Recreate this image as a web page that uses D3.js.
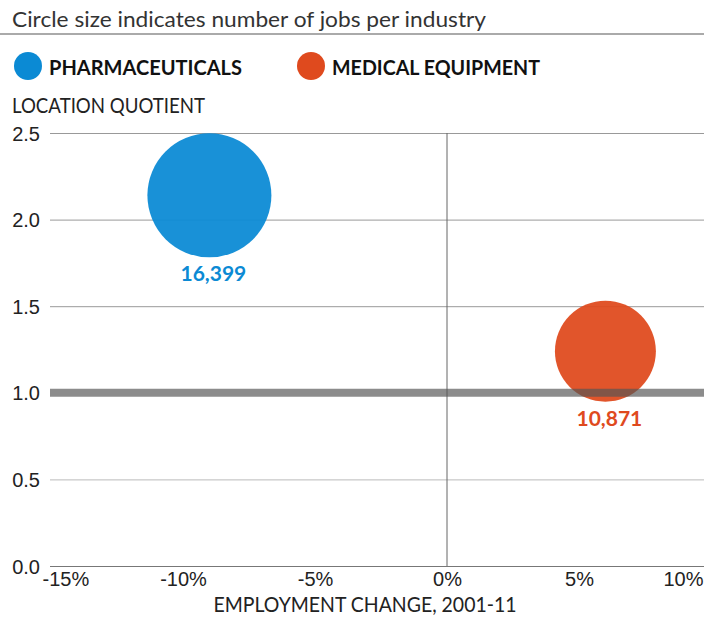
<!DOCTYPE html>
<html>
<head>
<meta charset="utf-8">
<script src="https://cdn.jsdelivr.net/npm/d3@7"></script>
<style>
  body { margin: 0; background: #fff; }
  svg { display: block; font-family: Lato, "Open Sans", sans-serif; }
</style>
</head>
<body>
<div id="chart"></div>
<script>
// Chart data
const industries = ["PHARMACEUTICALS", "MEDICAL EQUIPMENT"];
const employmentChange = [-9.0, 6.0];   // percent, 2001-11
const locationQuotient = [2.14, 1.24];
const jobs = [16399, 10871];
const colors = ["#0b8ad4", "#df4a1e"];
const xTicks = [-15, -10, -5, 0, 5, 10];
const yTicks = [0, 0.5, 1.0, 1.5, 2.0, 2.5];

const width = 704;
const height = 617;

const svg = d3.select("#chart")
    .append("svg")
    .attr("width", width)
    .attr("height", height);

// Scales
const x = d3.scaleLinear().domain([-15, 10]).range([51, 711]);
const y = d3.scaleLinear().domain([0, 2.5]).range([566, 133]);
const r = d3.scaleSqrt().domain([0, 16399]).range([0, 62]);

// Title + rule
svg.append("text")
    .attr("x", 12).attr("y", 27)
    .attr("font-size", 22)
    .attr("fill", "#333")
    .attr("textLength", 474)
    .attr("lengthAdjust", "spacingAndGlyphs")
    .text("Circle size indicates number of jobs per industry");

svg.append("line")
    .attr("x1", 0).attr("x2", width)
    .attr("y1", 34).attr("y2", 34)
    .attr("stroke", "#aaa")
    .attr("stroke-width", 2);

// Legend
const legendX = [28, 311];
const legendW = [193, 208];
const legend = svg.selectAll(".legend")
    .data(industries)
    .enter()
    .append("g")
    .attr("class", "legend")
    .attr("transform", (d, i) => `translate(${legendX[i]},66)`);

legend.append("circle")
    .attr("r", 14)
    .attr("fill", (d, i) => colors[i]);

legend.append("text")
    .attr("x", 21).attr("y", 9)
    .attr("font-size", 21)
    .attr("font-weight", "bold")
    .attr("fill", "#111")
    .attr("textLength", (d, i) => legendW[i])
    .attr("lengthAdjust", "spacingAndGlyphs")
    .text(d => d);

// Y axis title
svg.append("text")
    .attr("x", 12).attr("y", 113)
    .attr("font-size", 21)
    .attr("fill", "#222")
    .attr("textLength", 193)
    .attr("lengthAdjust", "spacingAndGlyphs")
    .text("LOCATION QUOTIENT");

// Horizontal gridlines
const yAxis = d3.axisLeft(y)
    .tickValues(yTicks)
    .tickFormat(d3.format(".1f"))
    .tickSize(-(width - 50))
    .tickPadding(10);

const gy = svg.append("g")
    .attr("transform", "translate(50,0)")
    .call(yAxis);
gy.select(".domain").remove();
gy.selectAll(".tick line")
    .attr("stroke", d => d === 0 ? "#777" : (d === 0.5 ? "#bbb" : "#999"))
    .attr("stroke-opacity", d => d === 1 ? 0 : 1);
gy.selectAll(".tick text")
    .attr("font-size", 20)
    .attr("fill", "#222")
    .attr("x", -10)
    .attr("dy", "0.35em");

// Vertical zero line
svg.append("line")
    .attr("x1", x(0)).attr("x2", x(0))
    .attr("y1", y(2.5)).attr("y2", y(0))
    .attr("stroke", "#666")
    .attr("stroke-width", 1);

// X axis labels
const xAxis = d3.axisBottom(x)
    .tickValues(xTicks)
    .tickFormat(d => d + "%")
    .tickSize(0)
    .tickPadding(6);

const gx = svg.append("g")
    .attr("transform", `translate(0,${y(0)})`)
    .call(xAxis);
gx.select(".domain").remove();
gx.selectAll(".tick text")
    .attr("font-size", 20)
    .attr("fill", "#222")
    .attr("text-anchor", (d, i) => i === 0 ? "start" : (i === xTicks.length - 1 ? "end" : "middle"))
    .attr("x", (d, i) => i === 0 ? -9 : (i === xTicks.length - 1 ? -8 : 0));

svg.append("text")
    .attr("x", 365).attr("y", 612)
    .attr("text-anchor", "middle")
    .attr("font-size", 21)
    .attr("fill", "#222")
    .attr("textLength", 303)
    .attr("lengthAdjust", "spacingAndGlyphs")
    .text("EMPLOYMENT CHANGE, 2001-11");

// Bubbles
const bubbles = svg.selectAll(".bubble")
    .data(industries)
    .enter()
    .append("g")
    .attr("class", "bubble");

bubbles.append("circle")
    .attr("cx", (d, i) => x(employmentChange[i]))
    .attr("cy", (d, i) => y(locationQuotient[i]))
    .attr("r", (d, i) => r(jobs[i]))
    .attr("fill", (d, i) => colors[i])
    .attr("fill-opacity", 0.94);

bubbles.append("text")
    .attr("x", (d, i) => x(employmentChange[i]) + 4)
    .attr("y", (d, i) => y(locationQuotient[i]) + r(jobs[i]) + 24)
    .attr("text-anchor", "middle")
    .attr("font-size", 21)
    .attr("font-weight", "bold")
    .attr("fill", (d, i) => colors[i])
    .text((d, i) => d3.format(",")(jobs[i]));

// Reference line at LQ = 1.0, drawn over bubbles
svg.append("line")
    .attr("x1", 50).attr("x2", width)
    .attr("y1", y(1)).attr("y2", y(1))
    .attr("stroke", "#555")
    .attr("stroke-opacity", 0.68)
    .attr("stroke-width", 8);
</script>
</body>
</html>
